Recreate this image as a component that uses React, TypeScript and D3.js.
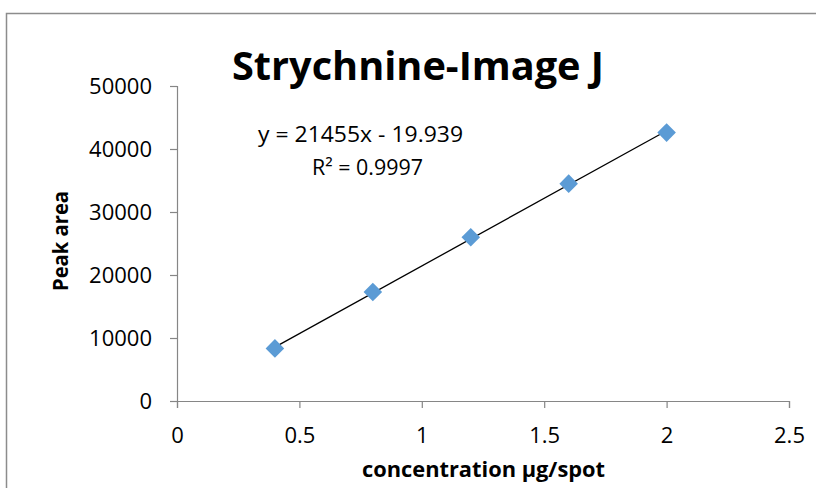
import React, { useRef, useEffect } from "react"
import * as d3 from "d3"

// data
const concentration = [0.4, 0.8, 1.2, 1.6, 2.0]
const peakArea = [8350, 17300, 26000, 34500, 42600]
const xTicks = [0, 0.5, 1, 1.5, 2, 2.5]
const yTicks = [0, 10000, 20000, 30000, 40000, 50000]
const slope = 21455
const intercept = -19.939
const rSquared = "0.9997"

const W = 816
const H = 488
const FONT = "'Open Sans', 'Liberation Sans', sans-serif"

const App: React.FunctionComponent = () => {
	const svgRef = useRef<SVGSVGElement>(null)

	useEffect(() => {
		const svg = d3.select(svgRef.current)
		svg.selectAll("*").remove()

		// chart frame
		svg.append("rect")
			.attr("x", 6.5)
			.attr("y", 13.5)
			.attr("width", 830)
			.attr("height", 500)
			.attr("fill", "white")
			.attr("stroke", "#8c8c8c")
			.attr("stroke-width", 1.5)

		const xScale = d3.scaleLinear().domain([0, 2.5]).range([177, 789])
		const yScale = d3.scaleLinear().domain([0, 50000]).range([401, 86])

		const xAxis = d3.axisBottom(xScale)
			.tickValues(xTicks)
			.tickSize(7)
			.tickPadding(27)
			.tickFormat((d) => String(d))

		const yAxis = d3.axisLeft(yScale)
			.tickValues(yTicks)
			.tickSize(7)
			.tickPadding(18)
			.tickFormat((d) => String(d))

		const gx = svg.append("g")
			.attr("transform", `translate(0, ${yScale(0)})`)
			.call(xAxis)
		const gy = svg.append("g")
			.attr("transform", `translate(${xScale(0)}, 0)`)
			.call(yAxis)

		for (const g of [gx, gy]) {
			g.selectAll("path, line").attr("stroke", "#868686").attr("stroke-width", 1.2)
			g.selectAll("text")
				.attr("fill", "#000")
				.style("font-family", FONT)
				.style("font-size", "22px")
		}
		gy.selectAll("text").attr("dy", "0.36em")
		gx.selectAll("text").attr("dy", "0.36em")

		// trendline
		const fit = (x: number) => slope * x + intercept
		const xs = [d3.min(concentration)!, d3.max(concentration)!]
		const line = d3.line<number>()
			.x((d) => xScale(d))
			.y((d) => yScale(fit(d)))
		svg.append("path")
			.attr("d", line(xs))
			.attr("fill", "none")
			.attr("stroke", "#000")
			.attr("stroke-width", 1.3)

		// markers
		const diamond = d3.symbol().type(d3.symbolDiamond2).size(220)
		svg.selectAll(".pt")
			.data(concentration)
			.join("path")
			.attr("class", "pt")
			.attr("transform", (d, i) => `translate(${xScale(d)}, ${yScale(peakArea[i])})`)
			.attr("d", diamond)
			.attr("fill", "#5b9bd5")

		// labels
		svg.append("text")
			.attr("x", 418)
			.attr("y", 80)
			.attr("text-anchor", "middle")
			.attr("textLength", 372)
			.attr("lengthAdjust", "spacingAndGlyphs")
			.style("font-family", FONT)
			.style("font-weight", "bold")
			.style("font-size", "40px")
			.text("Strychnine-Image J")

		svg.append("text")
			.attr("x", 360.5)
			.attr("y", 142)
			.attr("text-anchor", "middle")
			.attr("textLength", 205)
			.attr("lengthAdjust", "spacingAndGlyphs")
			.style("font-family", FONT)
			.style("font-size", "21px")
			.text(`y = ${slope}x - ${Math.abs(intercept)}`)

		svg.append("text")
			.attr("x", 367.5)
			.attr("y", 175)
			.attr("text-anchor", "middle")
			.attr("textLength", 111)
			.attr("lengthAdjust", "spacingAndGlyphs")
			.style("font-family", FONT)
			.style("font-size", "21px")
			.text(`R² = ${rSquared}`)

		svg.append("text")
			.attr("x", 483.5)
			.attr("y", 477)
			.attr("text-anchor", "middle")
			.attr("textLength", 243)
			.attr("lengthAdjust", "spacingAndGlyphs")
			.style("font-family", FONT)
			.style("font-weight", "bold")
			.style("font-size", "21.5px")
			.text("concentration µg/spot")

		svg.append("text")
			.attr("transform", `translate(68, 241) rotate(-90)`)
			.attr("text-anchor", "middle")
			.attr("textLength", 100)
			.attr("lengthAdjust", "spacingAndGlyphs")
			.style("font-family", FONT)
			.style("font-weight", "bold")
			.style("font-size", "22px")
			.text("Peak area")
	}, [])

	return (
		<svg
			ref={svgRef}
			width={W}
			height={H}
			style={{ position: "absolute", left: 0, top: 0, background: "white" }}
		></svg>
	)
}

export default App
